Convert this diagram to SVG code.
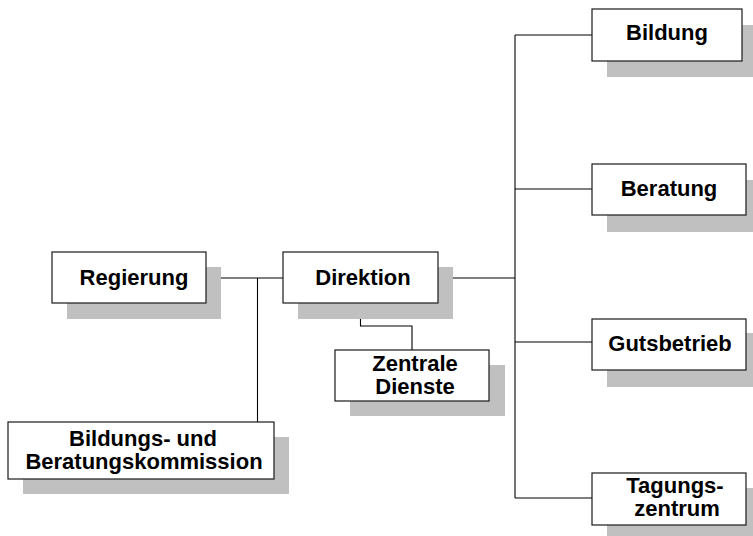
<svg xmlns="http://www.w3.org/2000/svg" width="753" height="536" viewBox="0 0 753 536">
<style>
.bg{fill:#ffffff}
.sh{fill:#c0c0c0}
.bx{fill:#ffffff;stroke:#1a1a1a;stroke-width:1.2}
.t{font-family:"Liberation Sans",Arial,sans-serif;font-weight:bold;font-size:22px;fill:#000;text-anchor:middle}
.c{fill:none;stroke:#000;stroke-width:1.1}
</style>
<rect class="bg" x="0" y="0" width="753" height="536"/>
<g id="connectors">
<path class="c" d="M206,278 H283"/>
<path class="c" d="M257.5,278 V422"/>
<path class="c" d="M438,278 H515"/>
<path class="c" d="M515,35 V498"/>
<path class="c" d="M515,35 H592"/>
<path class="c" d="M515,189 H592"/>
<path class="c" d="M515,342 H592"/>
<path class="c" d="M515,498 H592"/>
<path class="c" d="M360.5,303 V326 H412 V350"/>
</g>
<g id="regierung">
<rect class="sh" x="67" y="267" width="154" height="52"/>
<rect class="bx" x="52" y="252" width="154" height="51"/>
<text class="t" x="134" y="285">Regierung</text>
</g>
<g id="direktion">
<rect class="sh" x="298" y="267" width="155" height="52"/>
<rect class="bx" x="283" y="252" width="155" height="51"/>
<text class="t" x="363" y="285">Direktion</text>
</g>
<g id="zentrale">
<rect class="sh" x="350" y="365" width="155" height="51"/>
<rect class="bx" x="335" y="350" width="154" height="51"/>
<text class="t" x="415" y="371">Zentrale</text>
<text class="t" x="415" y="394">Dienste</text>
</g>
<g id="kommission">
<rect class="sh" x="23" y="437" width="266" height="57"/>
<rect class="bx" x="8" y="422" width="266" height="57"/>
<text class="t" x="143" y="446">Bildungs- und</text>
<text class="t" x="144" y="469">Beratungskommission</text>
</g>
<g id="bildung">
<rect class="sh" x="607" y="25" width="154" height="52"/>
<rect class="bx" x="592" y="9" width="150" height="52"/>
<text class="t" x="667" y="40">Bildung</text>
</g>
<g id="beratung">
<rect class="sh" x="607" y="180" width="154" height="52"/>
<rect class="bx" x="592" y="164" width="154" height="51"/>
<text class="t" x="669" y="196">Beratung</text>
</g>
<g id="gutsbetrieb">
<rect class="sh" x="607" y="333" width="154" height="54"/>
<rect class="bx" x="592" y="319" width="154" height="51"/>
<text class="t" x="670" y="351">Gutsbetrieb</text>
</g>
<g id="tagungszentrum">
<rect class="sh" x="607" y="488" width="154" height="52"/>
<rect class="bx" x="592" y="473" width="154" height="52"/>
<text class="t" x="675" y="493">Tagungs-</text>
<text class="t" x="677" y="516">zentrum</text>
</g>
</svg>
